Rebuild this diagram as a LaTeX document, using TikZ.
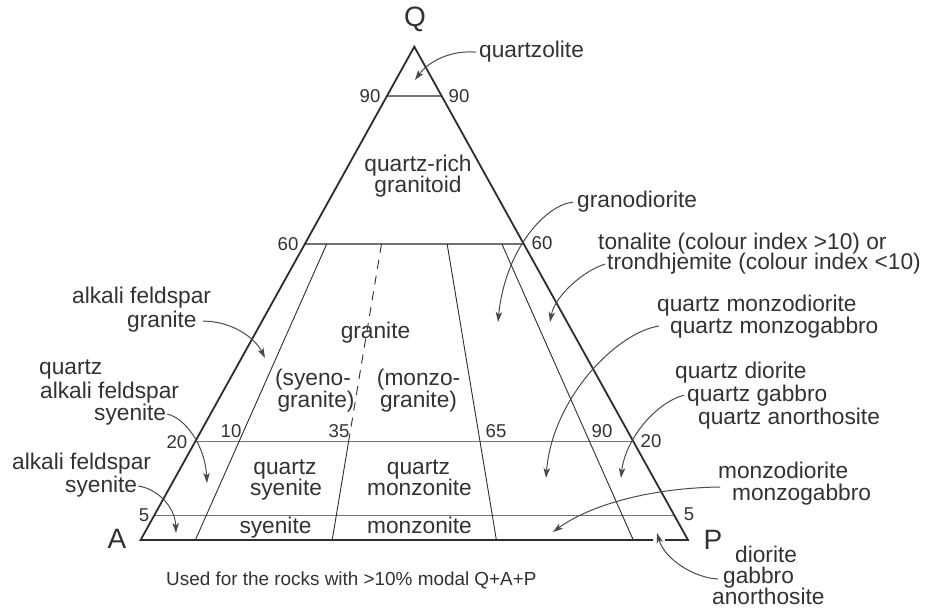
\documentclass[tikz,border=0pt]{standalone}
\usepackage{fontspec}
\setmainfont{Liberation Sans}
\usetikzlibrary{arrows.meta,calc}
\definecolor{ink}{RGB}{45,45,45}
\definecolor{txt}{RGB}{50,50,50}
\definecolor{rule}{RGB}{115,115,115}
\definecolor{arrowc}{RGB}{75,75,75}
\begin{document}
\begin{tikzpicture}[x=1pt,y=-1pt,
  lbl/.style={inner sep=0pt, text=txt, font=\fontsize{22.7}{26}\selectfont},
  num/.style={inner sep=0pt, text=txt, font=\fontsize{18.6}{22}\selectfont},
  corner/.style={inner sep=0pt, text=txt, font=\fontsize{28}{32}\selectfont},
  edge/.style={draw=ink, line width=1.8pt, line join=miter},
  level/.style={draw=rule, line width=1.5pt},
  divider/.style={draw=ink, line width=0.9pt},
  arr/.style={draw=arrowc, line width=1pt, -{Stealth[length=10pt,width=6.5pt,inset=2.5pt]}},
]
\useasboundingbox (0,0) rectangle (926,612);

% vertices of the QAP triangle
\coordinate (A) at (140.6,540);
\coordinate (P) at (688,540);
\coordinate (Q) at (414.3,46.7);

% horizontal Q levels
\foreach \lv/\f in {90/0.9,60/0.6,20/0.2,5/0.05}{
  \coordinate (L\lv) at ($(A)!\f!(Q)$);
  \coordinate (R\lv) at ($(P)!\f!(Q)$);
  \draw[level] (L\lv) -- (R\lv);
}

% dividers radiating from Q, drawn below the 60 level
\foreach \r/\f in {10/0.10,35/0.35,65/0.65,90/0.90}{
  \coordinate (B\r) at ($(A)!\f!(P)$);
  \coordinate (T\r) at ($(Q)!0.4!(B\r)$);
  \coordinate (M\r) at ($(Q)!0.8!(B\r)$);
}
\draw[divider] (T10) -- (B10);
\draw[divider, dash pattern=on 9pt off 7pt] (T35) -- (M35);
\draw[divider] (M35) -- (B35);
\draw[divider] (T65) -- (B65);
\draw[divider] (T90) -- (B90);

% outline, base interrupted where the diorite arrow passes
\coordinate (gapL) at (653,540);
\coordinate (gapR) at (665,540);
\draw[edge] (gapR) -- (P) -- (Q) -- (A) -- (gapL);

% apices
\node[corner] (nQ) at (415,19) {Q};
\node[corner] (nA) at (117,539) {A};
\node[corner] (nP) at (713,540) {P};

% level and ratio values
\node[num] (n90l) at (370,96) {90};
\node[num] (n90r) at (459,96) {90};
\node[num] (n60l) at (288,244) {60};
\node[num] (n60r) at (542,243) {60};
\node[num] (n20l) at (177,442) {20};
\node[num] (n20r) at (651,441) {20};
\node[num] (n5l) at (144,515) {5};
\node[num] (n5r) at (689,514) {5};
\node[num] (n10) at (231,431) {10};
\node[num] (n35) at (339,431) {35};
\node[num] (n65) at (496,431) {65};
\node[num] (n90b) at (602,431) {90};

% field names inside the triangle
\node[lbl, anchor=base] (rich1) at (418,171.7) {quartz-rich};
\node[lbl, anchor=base] (rich2) at (418,193) {granitoid};
\node[lbl, anchor=base] (gran) at (375.5,338) {granite};
\node[lbl, anchor=base] (syg1) at (313,385.5) {(syeno-};
\node[lbl, anchor=base] (syg2) at (316,407) {granite)};
\node[lbl, anchor=base] (mzg1) at (418.6,385.5) {(monzo-};
\node[lbl, anchor=base] (mzg2) at (418.5,407) {granite)};
\node[lbl, anchor=base] (qs1) at (285,474) {quartz};
\node[lbl, anchor=base] (qs2) at (286,495) {syenite};
\node[lbl, anchor=base] (qm1) at (418.5,474) {quartz};
\node[lbl, anchor=base] (qm2) at (419.5,495) {monzonite};
\node[lbl, anchor=base] (sy) at (275.5,533) {syenite};
\node[lbl, anchor=base] (mz) at (419.5,533) {monzonite};

% names outside, left
\node[lbl, anchor=base west] (afg1) at (72,303) {alkali feldspar};
\node[lbl, anchor=base west] (afg2) at (127,327) {granite};
\node[lbl, anchor=base west] (qas1) at (39,374) {quartz};
\node[lbl, anchor=base west] (qas2) at (40,398) {alkali feldspar};
\node[lbl, anchor=base west] (qas3) at (94,420) {syenite};
\node[lbl, anchor=base west] (afs1) at (12,469) {alkali feldspar};
\node[lbl, anchor=base west] (afs2) at (65,492) {syenite};

% names outside, right
\node[lbl, anchor=base west] (qzl) at (479,58) {quartzolite};
\node[lbl, anchor=base west] (gd) at (577,208) {granodiorite};
\node[lbl, anchor=base west] (ton1) at (598,249.5) {tonalite (colour index >10) or};
\node[lbl, anchor=base west] (ton2) at (607,270) {trondhjemite (colour index <10)};
\node[lbl, anchor=base west] (qmd1) at (657,312) {quartz monzodiorite};
\node[lbl, anchor=base west] (qmd2) at (670,333) {quartz monzogabbro};
\node[lbl, anchor=base west] (qd1) at (675,378) {quartz diorite};
\node[lbl, anchor=base west] (qd2) at (687,401) {quartz gabbro};
\node[lbl, anchor=base west] (qd3) at (698,424) {quartz anorthosite};
\node[lbl, anchor=base west] (md1) at (718,478) {monzodiorite};
\node[lbl, anchor=base west] (md2) at (732,500) {monzogabbro};
\node[lbl, anchor=base west] (dio1) at (735,562) {diorite};
\node[lbl, anchor=base west] (dio2) at (723,583) {gabbro};
\node[lbl, anchor=base west] (dio3) at (712,604.5) {anorthosite};

% caption
\node[num, anchor=base west, font=\fontsize{18.9}{22}\selectfont] (cap) at (166,585) {Used for the rocks with >10\% modal Q+A+P};

% arrow ends inside the fields
\coordinate (qzlT) at (415,80);
\coordinate (afgT) at (265,358);
\coordinate (qasT) at (207,483);
\coordinate (afsT) at (176,533);
\coordinate (gdT) at (498,322);
\coordinate (tonT) at (550,322);
\coordinate (qmdT) at (546,478);
\coordinate (qdT) at (621,478);
\coordinate (mdT) at (553,532);
\coordinate (dioT) at (657,533);
\coordinate (mdS) at (720,487);
\coordinate (dioS) at (718,579);
\coordinate (qmdS) at (659,326);

% pointers from names to fields
\draw[arr] ([xshift=-3pt]qzl.west) .. controls (450,50) and (428,62) .. (qzlT);
\draw[arr] ([xshift=6pt]afg2.east) .. controls (232,321) and (255,338) .. (afgT);
\draw[arr] ([xshift=1pt]qas3.east) .. controls (185,418) and (205,445) .. (qasT);
\draw[arr] ([xshift=1pt]afs2.east) .. controls (155,488) and (175,505) .. (afsT);
\draw[arr] ([xshift=-4pt]gd.west) .. controls (545,205) and (505,250) .. (gdT);
\draw[arr] ([xshift=-2pt]ton2.west) .. controls (585,270) and (555,295) .. (tonT);
\draw[arr] (qmdS) .. controls (615,333) and (552,400) .. (qmdT);
\draw[arr] ([xshift=-3pt]qd2.west) .. controls (655,403) and (625,440) .. (qdT);
\draw[arr] (mdS) .. controls (650,488) and (590,505) .. (mdT);
\draw[arr] (dioS) .. controls (695,578) and (665,560) .. (dioT);
\end{tikzpicture}
\end{document}
